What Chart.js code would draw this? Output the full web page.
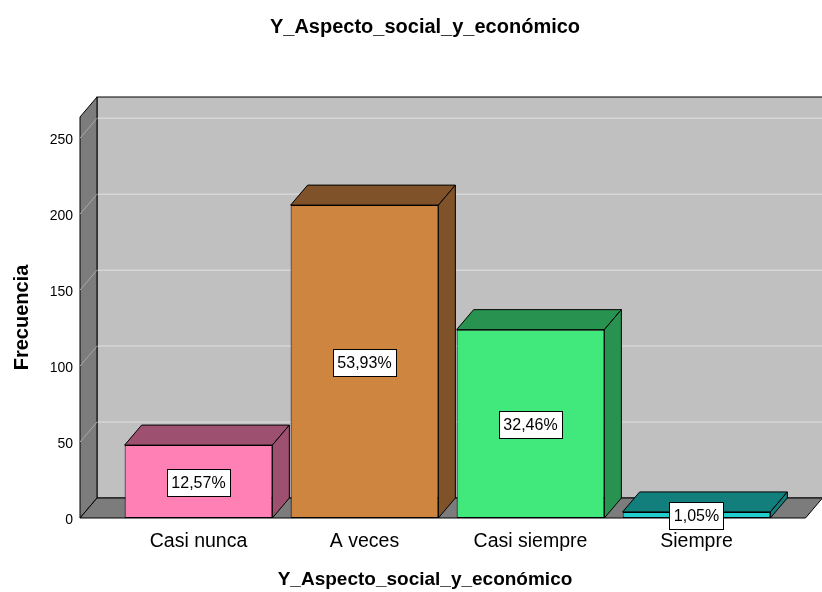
<!DOCTYPE html>
<html>
<head>
<meta charset="utf-8">
<script src="https://cdn.jsdelivr.net/npm/chart.js@4.4.1/dist/chart.umd.min.js"></script>
<style>
  html, body { margin: 0; padding: 0; background: #fff; }
</style>
</head>
<body>
<canvas id="chart" width="822" height="592"></canvas>
<script>
const categories = ["Casi nunca", "A veces", "Casi siempre", "Siempre"];
const frequencies = [48, 206, 124, 4];
const percentLabels = ["12,57%", "53,93%", "32,46%", "1,05%"];
const yTicks = [0, 50, 100, 150, 200, 250];
const yMax = 264;

const frontColors = ["#ff80b4", "#cd853f", "#41e97d", "#20cccc"];
const darkColors = ["#9d5070", "#7f5229", "#289350", "#137f7d"];

const FONT = "'Liberation Sans', Arial, sans-serif";
const DX = 17, DY = 20; // depth of the 3d look

// back wall, left wall, floor and the darker faces of the bars
const box3d = {
  id: "box3d",
  beforeDatasetsDraw(chart) {
    const { ctx, chartArea: a, scales } = chart;
    const y = scales.y;
    const left = a.left - 35.5, right = a.right + 26;
    ctx.save();
    ctx.lineWidth = 1;
    ctx.strokeStyle = "#000";

    // back wall
    ctx.fillStyle = "#c0c0c0";
    ctx.fillRect(left + DX, a.top - DY, right - left, a.bottom - a.top);
    ctx.strokeRect(left + DX, a.top - DY, right - left, a.bottom - a.top);

    // grid on the back wall
    ctx.strokeStyle = "#d6d6d6";
    ctx.lineWidth = 1.5;
    yTicks.slice(1).forEach(v => {
      const py = y.getPixelForValue(v) - DY;
      ctx.beginPath();
      ctx.moveTo(left + DX, py);
      ctx.lineTo(right + DX, py);
      ctx.stroke();
    });

    // left wall
    ctx.fillStyle = "#7c7c7c";
    ctx.strokeStyle = "#000";
    ctx.lineWidth = 1;
    poly(ctx, [[left, a.top], [left + DX, a.top - DY], [left + DX, a.bottom - DY], [left, a.bottom]]);

    ctx.strokeStyle = "#a8a8a8";
    yTicks.slice(1).forEach(v => {
      const py = y.getPixelForValue(v);
      ctx.beginPath();
      ctx.moveTo(left, py);
      ctx.lineTo(left + DX, py - DY);
      ctx.stroke();
    });

    // floor
    ctx.fillStyle = "#7c7c7c";
    ctx.strokeStyle = "#000";
    poly(ctx, [[left, a.bottom], [left + DX, a.bottom - DY], [right + DX, a.bottom - DY], [right, a.bottom]]);

    // top and side of every bar
    chart.getDatasetMeta(0).data.forEach((bar, i) => {
      const x0 = bar.x - bar.width / 2, x1 = bar.x + bar.width / 2;
      const yt = bar.y, yb = bar.base;
      ctx.fillStyle = darkColors[i];
      poly(ctx, [[x0, yt], [x0 + DX, yt - DY], [x1 + DX, yt - DY], [x1, yt]]);
      poly(ctx, [[x1, yt], [x1 + DX, yt - DY], [x1 + DX, yb - DY], [x1, yb]]);
    });
    ctx.restore();
  },
  afterDatasetsDraw(chart) {
    const { ctx } = chart;
    ctx.save();
    ctx.font = "16px " + FONT;
    ctx.textAlign = "center";
    ctx.textBaseline = "middle";
    chart.getDatasetMeta(0).data.forEach((bar, i) => {
      const cy = (bar.y + bar.base) / 2 + 1;
      const w = ctx.measureText(percentLabels[i]).width + 9;
      const h = 27;
      ctx.fillStyle = "#fff";
      ctx.fillRect(Math.round(bar.x - w / 2) + 0.5, Math.round(cy - h / 2) + 0.5, Math.round(w), h);
      ctx.strokeStyle = "#000";
      ctx.lineWidth = 1;
      ctx.strokeRect(Math.round(bar.x - w / 2) + 0.5, Math.round(cy - h / 2) + 0.5, Math.round(w), h);
      ctx.fillStyle = "#000";
      ctx.fillText(percentLabels[i], bar.x, cy + 1);
    });

    // chart title and x axis title
    ctx.font = "bold 20px " + FONT;
    ctx.fillText("Y_Aspecto_social_y_económico", 425, 27);
    ctx.font = "bold 19px " + FONT;
    ctx.fillText("Y_Aspecto_social_y_económico", 425, 580);
    ctx.restore();
  }
};

function poly(ctx, pts) {
  ctx.beginPath();
  ctx.moveTo(pts[0][0], pts[0][1]);
  pts.slice(1).forEach(p => ctx.lineTo(p[0], p[1]));
  ctx.closePath();
  ctx.fill();
  ctx.stroke();
}

new Chart(document.getElementById("chart"), {
  type: "bar",
  data: {
    labels: categories,
    datasets: [{
      data: frequencies,
      backgroundColor: frontColors,
      borderColor: "#000",
      borderWidth: 1,
      borderSkipped: false,
      categoryPercentage: 1,
      barPercentage: 0.89
    }]
  },
  options: {
    responsive: false,
    animation: false,
    devicePixelRatio: 1,
    layout: { padding: { top: 117, right: 42.5, bottom: 0, left: 0 } },
    plugins: {
      legend: { display: false },
      tooltip: { enabled: false }
    },
    scales: {
      x: {
        grid: { display: false },
        border: { display: false },
        ticks: { color: "#000", font: { family: FONT, size: 19.5 }, padding: 4 },
        afterFit: s => { s.height = 74; }
      },
      y: {
        min: 0,
        max: yMax,
        grid: { display: false },
        border: { display: false },
        ticks: { stepSize: 50, color: "#000", font: { family: FONT, size: 14 }, padding: 34.5, labelOffset: 2 },
        afterBuildTicks: s => { s.ticks = yTicks.map(v => ({ value: v })); },
        title: {
          display: true,
          text: "Frecuencia",
          color: "#000",
          font: { family: FONT, size: 20, weight: "bold" },
          padding: { top: 10, bottom: 0 }
        },
        afterFit: s => { s.width = 115.5; }
      }
    }
  },
  plugins: [box3d]
});
</script>
</body>
</html>
